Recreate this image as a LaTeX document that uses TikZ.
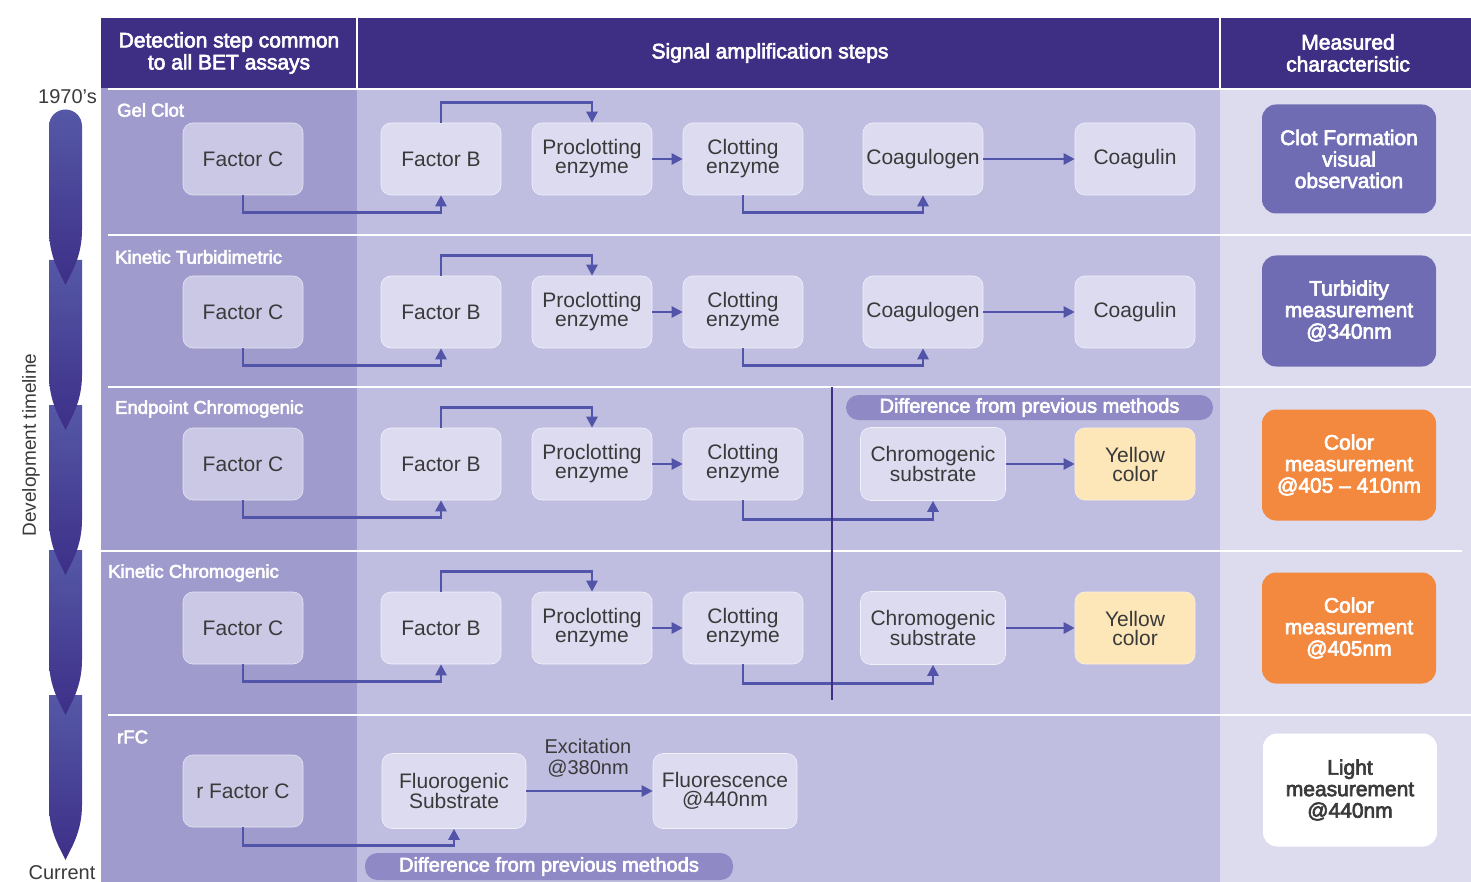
\documentclass[tikz,border=0pt]{standalone}
\usepackage{fontspec}
\setmainfont{Liberation Sans}
\newfontfamily\medfont[FakeBold=3]{Liberation Sans}
\usetikzlibrary{arrows.meta}
\definecolor{headcol}{HTML}{3E2F85}
\definecolor{colA}{HTML}{9F9BCC}
\definecolor{colB}{HTML}{BFBDE0}
\definecolor{colC}{HTML}{DDDCEF}
\definecolor{detfill}{HTML}{CBC8E6}
\definecolor{stepfill}{HTML}{DDDBF0}
\definecolor{boxtext}{HTML}{3A3A3A}
\definecolor{flowcol}{HTML}{5254AA}
\definecolor{measpurple}{HTML}{6F6CB4}
\definecolor{measorange}{HTML}{F3883F}
\definecolor{yellowfill}{HTML}{FDE6B8}
\definecolor{pillcol}{HTML}{8F8AC5}
\definecolor{tlA}{HTML}{5558A6}
\definecolor{tlB}{HTML}{3D2F88}
\newcommand{\tlseg}[2]{%
  \shade[top color=tlA, bottom color=tlB] (49,#2-55) -- (49,#1)
    -- (82,#1) -- (82,#2-55) .. controls (82,#2-28) and (71,#2-12) .. (65.5,#2)
    .. controls (60,#2-12) and (49,#2-28) .. (49,#2-55) -- cycle;}
\begin{document}
\begin{tikzpicture}[x=1pt, y=-1pt,
  stepbox/.style={rounded corners=10pt, fill=stepfill, draw=white!60!stepfill, line width=0.6pt,
    minimum width=120pt, minimum height=72pt, align=center, text=boxtext, inner sep=2pt,
    font=\fontsize{21}{19}\selectfont},
  detbox/.style={stepbox, fill=detfill, draw=white!50!detfill},
  measbox/.style={rounded corners=14pt, minimum width=174pt, minimum height=109pt, align=center,
    text=white, font=\medfont\fontsize{21}{21.5}\selectfont},
  headtxt/.style={align=center, text=white, font=\medfont\fontsize{21}{22}\selectfont},
  rowlabel/.style={anchor=west, inner sep=0pt, text=white, font=\medfont\fontsize{18.5}{20}\selectfont},
  pill/.style={rounded corners=12.5pt, fill=pillcol, text=white, minimum height=25pt,
    inner sep=0pt, font=\medfont\fontsize{20}{20}\selectfont},
  flow/.style={draw=flowcol, line width=2.6pt, -{Triangle[length=11pt,width=11pt]}},
  sepline/.style={draw=white, line width=2.5pt},
  tltext/.style={text=boxtext, inner sep=0pt, font=\fontsize{20}{22}\selectfont}]
\useasboundingbox (0,0) rectangle (1471,882);
% backgrounds
\fill[headcol] (101,18) rectangle (1471,88);
\fill[colA] (101,88) rectangle (357,882);
\fill[colB] (357,88) rectangle (1220,882);
\fill[colC] (1220,88) rectangle (1471,882);
\draw[white, line width=1.5pt] (357,18) -- (357,88);
\draw[white, line width=1.5pt] (1220,18) -- (1220,88);
\draw[sepline, line width=1.5pt] (108,89) -- (1471,89);
\draw[sepline] (108,235) -- (1471,235);
\draw[sepline] (108,387) -- (1471,387);
\draw[sepline] (101,551) -- (1462,551);
\draw[sepline] (108,715) -- (1471,715);
% header
\node[headtxt] (h1) at (229,53) {Detection step common\\to all BET assays};
\node[headtxt] (h2) at (770,53) {Signal amplification steps};
\node[headtxt] (h3) at (1348,53) {Measured\\characteristic};
% timeline
\tlseg{695}{860}
\tlseg{550}{715}
\tlseg{405}{575}
\tlseg{260}{430}
\shade[top color=tlA, bottom color=tlB] (49,230) -- (49,126) arc (180:360:16.5)
  -- (82,230) .. controls (82,257) and (71,273) .. (65.5,285)
  .. controls (60,273) and (49,257) .. (49,230) -- cycle;
\node[tltext, anchor=east] (t0) at (97,97) {1970’s};
\node[tltext] (t1) at (62,873) {Current};
\node[tltext, rotate=90, font=\fontsize{19}{20}\selectfont] (t2) at (31,445) {Development timeline};
% row labels
\node[rowlabel] (r1) at (117,110) {Gel Clot};
\node[rowlabel] (r2) at (115,257) {Kinetic Turbidimetric};
\node[rowlabel] (r3) at (115,409) {Endpoint Chromogenic};
\node[rowlabel] (r4) at (108,573) {Kinetic Chromogenic};
\node[rowlabel] (r5) at (117,737) {rFC};
% Gel Clot
\node[detbox] (fc1) at (243,159) {Factor C};
\node[stepbox] (fb1) at (441,159) {Factor B};
\node[stepbox] (pe1) at (592,159) {Proclotting\\enzyme};
\node[stepbox] (ce1) at (743,159) {Clotting\\enzyme};
\node[stepbox] (cg1) at (923,159) {Coagulogen};
\node[stepbox] (cl1) at (1135,159) {Coagulin};
\node[measbox, fill=measpurple] (m1) at (1349,159) {Clot Formation\\visual\\observation};
\draw[flow] (fc1.south) -- ++(0,17) -| (fb1.south);
\draw[flow] (fb1.north) -- ++(0,-20) -| (pe1.north);
\draw[flow] (pe1.east) -- (ce1.west);
\draw[flow] (ce1.south) -- ++(0,17) -| (cg1.south);
\draw[flow] (cg1.east) -- (cl1.west);
% Kinetic Turbidimetric
\node[detbox] (fc2) at (243,312) {Factor C};
\node[stepbox] (fb2) at (441,312) {Factor B};
\node[stepbox] (pe2) at (592,312) {Proclotting\\enzyme};
\node[stepbox] (ce2) at (743,312) {Clotting\\enzyme};
\node[stepbox] (cg2) at (923,312) {Coagulogen};
\node[stepbox] (cl2) at (1135,312) {Coagulin};
\node[measbox, fill=measpurple, minimum height=111pt] (m2) at (1349,311) {Turbidity\\measurement\\@340nm};
\draw[flow] (fc2.south) -- ++(0,17) -| (fb2.south);
\draw[flow] (fb2.north) -- ++(0,-20) -| (pe2.north);
\draw[flow] (pe2.east) -- (ce2.west);
\draw[flow] (ce2.south) -- ++(0,17) -| (cg2.south);
\draw[flow] (cg2.east) -- (cl2.west);
% Endpoint Chromogenic
\node[detbox] (fc3) at (243,464) {Factor C};
\node[stepbox] (fb3) at (441,464) {Factor B};
\node[stepbox] (pe3) at (592,464) {Proclotting\\enzyme};
\node[stepbox] (ce3) at (743,464) {Clotting\\enzyme};
\node[stepbox, minimum width=145pt, minimum height=73pt] (cs3) at (933,464) {Chromogenic\\substrate};
\node[stepbox, fill=yellowfill, draw=white!50!yellowfill] (yc3) at (1135,464) {Yellow\\color};
\node[measbox, fill=measorange, minimum height=111pt] (m3) at (1349,465) {Color\\measurement\\@405 – 410nm};
\node[pill, minimum width=367pt] (p1) at (1029.5,407.5) {Difference from previous methods};
\draw[flow] (fc3.south) -- ++(0,17) -| (fb3.south);
\draw[flow] (fb3.north) -- ++(0,-20) -| (pe3.north);
\draw[flow] (pe3.east) -- (ce3.west);
\draw[flow] (ce3.south) -- ++(0,19) -| (cs3.south);
\draw[flow] (cs3.east) -- (yc3.west);
% Kinetic Chromogenic
\node[detbox] (fc4) at (243,628) {Factor C};
\node[stepbox] (fb4) at (441,628) {Factor B};
\node[stepbox] (pe4) at (592,628) {Proclotting\\enzyme};
\node[stepbox] (ce4) at (743,628) {Clotting\\enzyme};
\node[stepbox, minimum width=145pt, minimum height=73pt] (cs4) at (933,628) {Chromogenic\\substrate};
\node[stepbox, fill=yellowfill, draw=white!50!yellowfill] (yc4) at (1135,628) {Yellow\\color};
\node[measbox, fill=measorange, minimum height=111pt] (m4) at (1349,628) {Color\\measurement\\@405nm};
\draw[flow] (fc4.south) -- ++(0,17) -| (fb4.south);
\draw[flow] (fb4.north) -- ++(0,-20) -| (pe4.north);
\draw[flow] (pe4.east) -- (ce4.west);
\draw[flow] (ce4.south) -- ++(0,19) -| (cs4.south);
\draw[flow] (cs4.east) -- (yc4.west);
% boundary of the chromogenic steps
\coordinate (vtop) at (832,387);
\coordinate (vbot) at (832,700);
\draw[headcol, line width=2.4pt] (vtop) -- (vbot);
% rFC
\node[detbox] (fc5) at (243,791) {r Factor C};
\node[stepbox, minimum width=144pt, minimum height=75pt] (fs5) at (454,791) {Fluorogenic\\Substrate};
\node[stepbox, minimum width=144pt, minimum height=75pt] (fl5) at (725,791) {Fluorescence\\@440nm};
\node[measbox, fill=white, text=boxtext, minimum height=113pt] (m5) at (1350,790) {Light\\measurement\\@440nm};
\node[tltext, align=center, font=\fontsize{20}{21}\selectfont] (ex5) at (588,758) {Excitation\\@380nm};
\node[pill, minimum width=368pt, minimum height=27pt] (p2) at (549,866.5) {Difference from previous methods};
\draw[flow] (fc5.south) -- ++(0,18) -| (fs5.south);
\draw[flow] (fs5.east) -- (fl5.west);
\end{tikzpicture}
\end{document}
